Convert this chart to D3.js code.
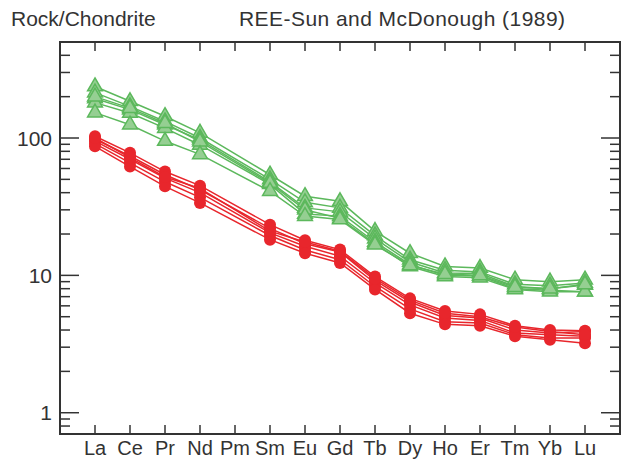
<!DOCTYPE html>
<html>
<head>
<meta charset="utf-8">
<script src="https://cdn.jsdelivr.net/npm/d3@7"></script>
<style>
  body { margin: 0; background: #fff; }
  text { font-family: "Liberation Sans", Arial, sans-serif; fill: #333; }
</style>
</head>
<body>
<div id="my_dataviz"></div>
<script>
// REE element names (Pm has no data)
var elements = ["La", "Ce", "Pr", "Nd", "Pm", "Sm", "Eu", "Gd", "Tb", "Dy", "Ho", "Er", "Tm", "Yb", "Lu"];

// green triangle samples
var green1 = [237, 185, 144, 109, null, 54, 37.7, 34.6, 21, 14.5, 11.6, 11.3, 9.3, 9.0, 9.3];
var green2 = [214, 170, 132, 100, null, 50, 34, 31, 19.5, 13, 10.9, 10.6, 8.6, 8.4, 8.8];
var green3 = [194, 161, 125, 97, null, 48, 31, 29, 18.5, 12.5, 10.4, 10.3, 8.3, 8.0, 8.5];
var green4 = [181, 152, 118, 89, null, 46, 28, 27, 17.5, 12, 10.0, 9.9, 8.0, 7.8, 7.6];
var green5 = [200, 165, 128, 94, null, 47, 30, 26, 17, 11.6, 9.8, 9.6, 7.9, 7.6, 7.6];
var green6 = [153, 125, 95, 76, null, 41, 27, 25.5, 16.7, 11.8, 10.2, 10, 8.2, 8.0, 8.6];

// red circle samples
var red1 = [103, 78, 57, 45, null, 23.4, 18, 15.4, 9.8, 6.8, 5.5, 5.2, 4.3, 4.0, 3.95];
var red2 = [98, 74, 54, 42, null, 22, 17, 14.8, 9.2, 6.4, 5.1, 4.9, 4.0, 3.8, 3.9];
var red3 = [95, 70, 51, 40, null, 20.4, 16.3, 13.8, 8.8, 6.1, 4.9, 4.7, 3.8, 3.7, 3.6];
var red4 = [91, 66, 48, 37, null, 19.5, 15.3, 13, 8.3, 5.7, 4.6, 4.5, 3.7, 3.5, 3.5];
var red5 = [87, 62, 44.5, 33.7, null, 18.2, 14.5, 12.3, 7.9, 5.3, 4.4, 4.3, 3.6, 3.4, 3.2];
var red6 = [100, 72, 52, 43, null, 21, 17.5, 15, 9.5, 6.6, 5.3, 5.0, 4.2, 3.9, 3.7];

var greenSeries = [green1, green2, green3, green4, green5, green6];
var redSeries = [red1, red2, red3, red4, red5, red6];

var yMajor = [1, 10, 100];
var yMinor = [0.8, 0.9, 2, 3, 4, 5, 6, 7, 8, 9, 20, 30, 40, 50, 60, 70, 80, 90, 200, 300, 400];

var W = 622, H = 461;
var plotL = 60, plotR = 620, plotT = 42, plotB = 434;

var svg = d3.select("#my_dataviz")
  .append("svg")
    .attr("width", W)
    .attr("height", H);

var x = d3.scaleLinear()
  .domain([0, elements.length + 1])
  .range([plotL, plotR]);

var y = d3.scaleLog()
  .domain([0.7, 500])
  .range([plotB, plotT]);

// titles
svg.append("text")
  .attr("x", 11)
  .attr("y", 26)
  .style("font-size", "21px")
  .text("Rock/Chondrite");

svg.append("text")
  .attr("x", 239)
  .attr("y", 26)
  .style("font-size", "21px")
  .attr("textLength", 326)
  .text("REE-Sun and McDonough (1989)");

var tickColor = "#333";

// y ticks, inside, on both sides
function yTick(v, len) {
  svg.append("line")
    .attr("x1", plotL).attr("x2", plotL + len)
    .attr("y1", y(v)).attr("y2", y(v))
    .attr("stroke", tickColor).attr("stroke-width", 1.5);
  svg.append("line")
    .attr("x1", plotR).attr("x2", plotR - len)
    .attr("y1", y(v)).attr("y2", y(v))
    .attr("stroke", tickColor).attr("stroke-width", 1.5);
}
yMajor.forEach(function(v) { yTick(v, 19); });
yMinor.forEach(function(v) { yTick(v, 10); });

svg.selectAll(".ylab")
  .data(yMajor)
  .enter()
  .append("text")
    .attr("x", 52)
    .attr("y", function(d) { return y(d) + 7.5; })
    .attr("text-anchor", "end")
    .style("font-size", "21px")
    .text(function(d) { return d; });

// x ticks, top and bottom
elements.forEach(function(e, i) {
  svg.append("line")
    .attr("x1", x(i + 1)).attr("x2", x(i + 1))
    .attr("y1", plotB).attr("y2", plotB - 9)
    .attr("stroke", tickColor).attr("stroke-width", 1.5);
  svg.append("line")
    .attr("x1", x(i + 1)).attr("x2", x(i + 1))
    .attr("y1", plotT).attr("y2", plotT + 9)
    .attr("stroke", tickColor).attr("stroke-width", 1.5);
});

svg.selectAll(".xlab")
  .data(elements)
  .enter()
  .append("text")
    .attr("x", function(d, i) { return x(i + 1); })
    .attr("y", 455)
    .attr("text-anchor", "middle")
    .style("font-size", "20px")
    .text(function(d) { return d; });

// frame
svg.append("rect")
  .attr("x", plotL).attr("y", plotT)
  .attr("width", plotR - plotL).attr("height", plotB - plotT)
  .attr("fill", "none")
  .attr("stroke", tickColor)
  .attr("stroke-width", 2);

function pts(vals) {
  var out = [];
  vals.forEach(function(v, i) {
    if (v != null) out.push({i: i, v: v});
  });
  return out;
}

var line = d3.line()
  .x(function(d) { return x(d.i + 1); })
  .y(function(d) { return y(d.v); });

// red circles
redSeries.forEach(function(s) {
  svg.append("path")
    .datum(pts(s))
    .attr("fill", "none")
    .attr("stroke", "#e8262c")
    .attr("stroke-width", 1.5)
    .attr("d", line);
});
redSeries.forEach(function(s) {
  svg.selectAll(null)
    .data(pts(s))
    .enter()
    .append("circle")
      .attr("cx", function(d) { return x(d.i + 1); })
      .attr("cy", function(d) { return y(d.v); })
      .attr("r", 6)
      .attr("fill", "#e8262c");
});

// green triangles
var tri = d3.symbol().type(d3.symbolTriangle).size(95);
greenSeries.forEach(function(s) {
  svg.append("path")
    .datum(pts(s))
    .attr("fill", "none")
    .attr("stroke", "#5cb85c")
    .attr("stroke-width", 1.5)
    .attr("d", line);
});
greenSeries.forEach(function(s) {
  svg.selectAll(null)
    .data(pts(s))
    .enter()
    .append("path")
      .attr("transform", function(d) { return "translate(" + x(d.i + 1) + "," + y(d.v) + ")"; })
      .attr("d", tri)
      .attr("fill", "#95cf92")
      .attr("stroke", "#5cb85c")
      .attr("stroke-width", 1.5);
});
</script>
</body>
</html>
